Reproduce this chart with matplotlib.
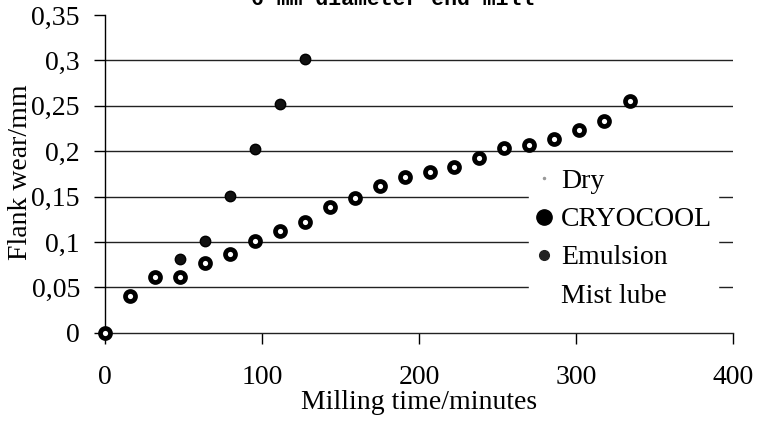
import matplotlib
matplotlib.use("Agg")
import matplotlib.pyplot as plt
from matplotlib.lines import Line2D
from matplotlib.ticker import FuncFormatter

# ---- data ----
cryo_time = [0, 15.9, 31.8, 47.7, 63.6, 79.5, 95.4, 111.3, 127.2, 143.1, 159,
             174.9, 190.8, 206.7, 222.6, 238.5, 254.4, 270.3, 286.2, 302.1, 318, 334.5]
cryo_wear = [0, 0.040, 0.061, 0.061, 0.077, 0.087, 0.101, 0.112, 0.122, 0.138, 0.148,
             0.162, 0.172, 0.177, 0.182, 0.193, 0.203, 0.207, 0.213, 0.223, 0.233, 0.255]
emul_time = [47.7, 63.6, 79.5, 95.4, 111.3, 127.2]
emul_wear = [0.081, 0.101, 0.151, 0.202, 0.252, 0.301]
series_names = ["Dry", "CRYOCOOL", "Emulsion", "Mist lube"]
title_text = "6 mm diameter end mill"
x_ticks = [0, 100, 200, 300, 400]
y_ticks = [0, 0.05, 0.1, 0.15, 0.2, 0.25, 0.3, 0.35]

plt.rcParams['font.family'] = ['Liberation Serif', 'DejaVu Serif']

fig = plt.figure(figsize=(7.63, 4.28), dpi=100)
ax = fig.add_axes([105/763, 1 - 332.7/428, (733 - 105)/763, (332.7 - 15)/428])

ax.set_xlim(0, 400)
ax.set_ylim(0, 0.35)
ax.set_xticks(x_ticks)
ax.set_yticks(y_ticks)

def comma(v, pos):
    s = ('%g' % round(v, 3))
    return s.replace('.', ',')

ax.yaxis.set_major_formatter(FuncFormatter(comma))
ax.xaxis.set_major_formatter(FuncFormatter(lambda v, p: '%d' % v))

for y in y_ticks[1:-1]:
    ax.axhline(y, color='#222222', lw=1.0, zorder=1)

ax.plot(cryo_time, cryo_wear, ls='none', marker='o', ms=7.2, mew=3.4,
        mfc='white', mec='black', zorder=3, clip_on=False)
ax.plot(emul_time, emul_wear, ls='none', marker='o', ms=7.5, mew=1,
        mfc='#111111', mec='black', zorder=3, clip_on=False)

for s in ['top', 'right']:
    ax.spines[s].set_visible(False)
ax.spines['left'].set_color('black')
ax.spines['bottom'].set_color('#222222')
ax.spines['left'].set_linewidth(1.0)
ax.spines['bottom'].set_linewidth(1.0)
ax.tick_params(axis='both', direction='out', length=8, width=1, labelsize=20,
               colors='black')
ax.tick_params(axis='x', pad=15)
ax.tick_params(axis='y', pad=10)

ax.set_xlabel("Milling time/minutes", fontsize=20, labelpad=0)
ax.set_ylabel("Flank wear/mm", fontsize=20)
ax.yaxis.set_label_coords(-72/628, (332.7 - 172) / 317.7)

handles = [
    Line2D([], [], ls='none', marker='.', ms=3, color='#999999'),
    Line2D([], [], ls='none', marker='o', ms=11, color='black'),
    Line2D([], [], ls='none', marker='o', ms=7, color='#222222'),
    Line2D([], [], ls='none', marker='', color='white'),
]
leg = ax.legend(handles, series_names, loc='upper left',
                bbox_to_anchor=((529 - 105) / 628, (332.7 - 163) / 317.7),
                frameon=True, facecolor='white', edgecolor='white', framealpha=1,
                fontsize=20, handlelength=0.7, handletextpad=0.25,
                labelspacing=0.46, borderpad=0.2, borderaxespad=0)
leg.set_zorder(5)

fig.text(393/763, 1 - 5/428, title_text, ha='center', va='baseline',
         fontsize=15.5, fontweight='bold', family=['Liberation Mono', 'DejaVu Sans Mono'])

fig.savefig("out.png", dpi=100)
